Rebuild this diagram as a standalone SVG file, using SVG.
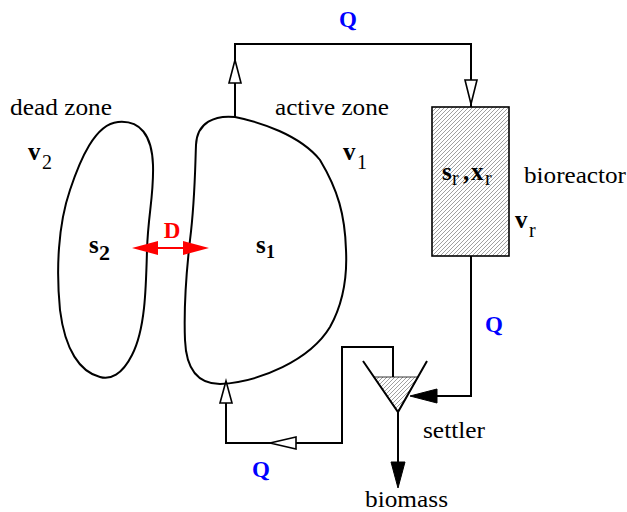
<svg xmlns="http://www.w3.org/2000/svg" width="627" height="512" viewBox="0 0 627 512">
<style>
text{font-family:"Liberation Serif","Times New Roman",serif;fill:#000}
.lbl{font-size:24px}
.b{font-weight:bold;font-size:25px}
.sub{font-size:20px;font-weight:normal}
.q{font-weight:bold;font-size:23px;fill:#0000ff}
.ln{fill:none;stroke:#000;stroke-width:2}
.blob{fill:none;stroke:#000;stroke-width:2}
.hol{fill:#fff;stroke:#000;stroke-width:1.6}
.fil{fill:#000;stroke:#000;stroke-width:1}
</style>
<defs>
<pattern id="hatch" patternUnits="userSpaceOnUse" width="4" height="4">
<rect width="4" height="4" fill="#fff"/>
<path d="M-1,1 L1,-1 M0,4 L4,0 M3,5 L5,3" stroke="#777" stroke-width="0.7"/>
</pattern>
</defs>
<g id="dead-zone">
<path class="blob" d="M118,122 C140,120 152,135 153,165 C154,195 148,215 147,250 C146,290 145,330 132,355 C122,375 110,380 100,377 C80,372 65,350 60,310 C56,270 58,225 70,190 C80,160 95,124 118,122 Z"/>
<text class="lbl" x="10" y="115" textLength="102" lengthAdjust="spacingAndGlyphs">dead zone</text>
<text class="b" x="28" y="160">v</text><text class="sub" x="42" y="169">2</text>
<text class="b" x="89" y="253">s</text><text class="b" x="99" y="260" style="font-size:22px">2</text>
</g>
<g id="active-zone">
<path class="blob" d="M235,117 C215,115 197,122 196,145 C195,170 195,200 190,240 C186,275 184,315 185,340 C186,365 195,384 220,384 C260,382 310,360 330,327 C345,300 347,270 346,250 C345,215 338,190 320,160 C300,135 260,122 235,117 Z"/>
<text class="lbl" x="275" y="115" textLength="114" lengthAdjust="spacingAndGlyphs">active zone</text>
<text class="b" x="343" y="160">v</text><text class="sub" x="357" y="169">1</text>
<text class="b" x="256" y="253">s</text><text class="b" x="266" y="258" style="font-size:18px">1</text>
</g>
<g id="bioreactor">
<rect x="432" y="107" width="77" height="149" fill="url(#hatch)" stroke="#000" stroke-width="1.6"/>
<text class="b" x="442" y="180">s</text><text class="sub" x="452" y="185">r</text><text class="b" x="463" y="180">,</text><text class="b" x="471" y="180">x</text><text class="sub" x="485" y="185">r</text>
<text class="lbl" x="524" y="183" textLength="102" lengthAdjust="spacingAndGlyphs">bioreactor</text>
<text class="b" x="515" y="228">v</text><text class="sub" x="529" y="237">r</text>
</g>
<g id="settler">
<polygon points="374,377 418,377 398,412" fill="url(#hatch)" stroke="#000" stroke-width="0.8"/>
<polyline class="ln" points="363,361 398,412 427,361"/>
<text class="lbl" x="423" y="438" textLength="62" lengthAdjust="spacingAndGlyphs">settler</text>
</g>
<g id="biomass">
<text class="lbl" x="365" y="507" textLength="83" lengthAdjust="spacingAndGlyphs">biomass</text>
</g>
<g id="connectors">
<polyline class="ln" points="235,117 235,44 471,44 471,107"/>
<polygon class="hol" points="235,60 229,83 241,83"/>
<polygon class="hol" points="465,80 477,80 471,104"/>
<polyline class="ln" points="471,256 471,396 437,396"/>
<polygon class="fil" points="410,396 437,389 437,403"/>
<polyline class="ln" points="393,377 393,347 342,347 342,443 226,443 226,383"/>
<polygon class="hol" points="270,443 296,437 296,449"/>
<polygon class="hol" points="226,381 220,403 232,403"/>
<line class="ln" x1="398" y1="412" x2="398" y2="462"/>
<polygon class="fil" points="398,488 391,462 405,462"/>
<line x1="156" y1="248" x2="185" y2="248" stroke="#f00" stroke-width="2"/>
<polygon points="132,248 158,241 158,255" fill="#f00"/>
<polygon points="209,248 183,241 183,255" fill="#f00"/>
<text x="172" y="238" text-anchor="middle" style="font-weight:bold;font-size:23px;fill:#f00">D</text>
<text class="q" x="339" y="27">Q</text>
<text class="q" x="485" y="332">Q</text>
<text class="q" x="252" y="477">Q</text>
</g>
</svg>
